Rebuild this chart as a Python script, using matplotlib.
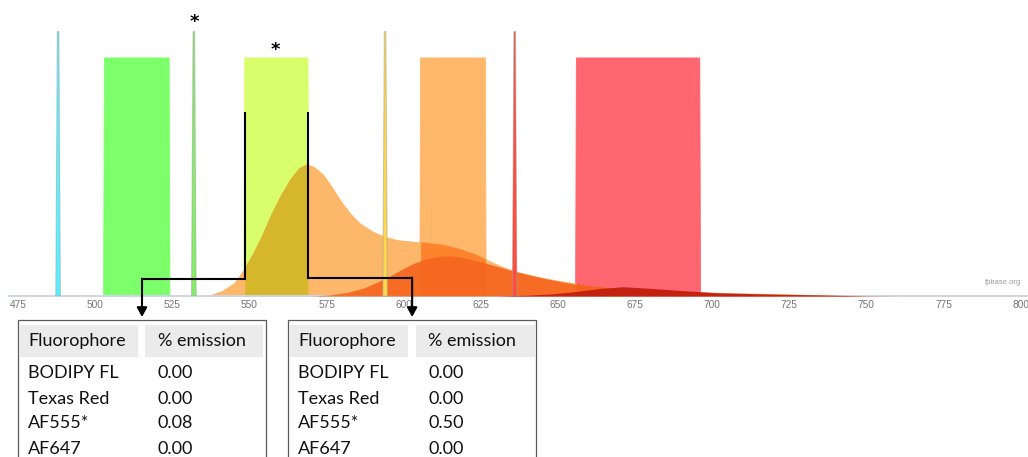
import numpy as np
import matplotlib
matplotlib.use("Agg")
import matplotlib.pyplot as plt
from matplotlib.patches import Rectangle, Polygon
from matplotlib.colors import to_rgb

# ---------------- data ----------------
tick_values = list(range(475, 801, 25))

laser_nm = [488, 532, 594, 636]
laser_colors = ["#5cf0ff", "#86ee66", "#ffd84a", "#ff4c3c"]

filter_lo = [503.0, 548.5, 605.5, 656.0]
filter_hi = [524.0, 569.0, 626.5, 696.0]
filter_colors = ["#7dff6b", "#d8ff6b", "#ffb86b", "#ff6670"]
filter_level = 0.90

af555_nm = [535, 538, 541, 545, 548, 551, 554, 557, 560, 563, 566, 568.5, 571, 574,
            577, 580, 583, 586, 590, 594, 598, 603, 608, 613, 618, 623, 627, 632, 637,
            642, 647, 653, 660, 668, 676, 685, 696, 707, 720, 735, 750]
af555_em = [0, 0.008, 0.02, 0.05, 0.10, 0.16, 0.23, 0.31, 0.38, 0.44, 0.485, 0.499,
            0.49, 0.46, 0.41, 0.355, 0.31, 0.275, 0.245, 0.225, 0.213, 0.207, 0.202,
            0.195, 0.18, 0.16, 0.138, 0.112, 0.092, 0.078, 0.066, 0.054, 0.04, 0.03,
            0.023, 0.019, 0.016, 0.012, 0.009, 0.005, 0]

texasred_nm = [570, 576, 582, 587, 591, 595, 599, 603, 607, 611, 615, 619, 623, 627,
               631, 635, 640, 645, 652, 660, 670, 680, 695, 710, 725, 745, 760]
texasred_em = [0, 0.004, 0.014, 0.03, 0.05, 0.072, 0.098, 0.122, 0.140, 0.150, 0.152,
               0.146, 0.135, 0.123, 0.110, 0.096, 0.082, 0.068, 0.052, 0.038, 0.027,
               0.019, 0.011, 0.007, 0.004, 0.002, 0]

af647_nm = [630, 640, 648, 655, 664, 671, 680, 691, 701.5, 718, 735, 750]
af647_em = [0, 0.003, 0.008, 0.016, 0.029, 0.035, 0.029, 0.02, 0.0125, 0.0076, 0.004, 0]

fluorophores = ["BODIPY FL", "Texas Red", "AF555*", "AF647"]
emission_left = [0.00, 0.00, 0.08, 0.00]
emission_right = [0.00, 0.00, 0.50, 0.00]
table_headers = ["Fluorophore", "% emission"]

# ---------------- figure ----------------
W, H = 1028, 457
fig = plt.figure(figsize=(W / 100, H / 100), dpi=100)
fig.patch.set_facecolor("white")

px_per_nm = 3.085
x0_px = 18.0            # pixel of 475 nm
base_px = 296.0         # baseline pixel (from top)
unit_px = 264.5         # pixels for height 1.0
ax_left_px = 9.0

ax = fig.add_axes([ax_left_px / W, (H - base_px) / H, 1 - ax_left_px / W, base_px / H])
ax.set_xlim(475 - (x0_px - ax_left_px) / px_per_nm, 475 + (W - x0_px) / px_per_nm)
ax.set_ylim(0, base_px / unit_px)
ax.set_facecolor("none")
for s in ["top", "right", "left"]:
    ax.spines[s].set_visible(False)
ax.spines["bottom"].set_color("#cdd6e2")
ax.spines["bottom"].set_linewidth(1.4)
ax.set_yticks([])
ax.set_xticks(tick_values)
ax.tick_params(axis="x", length=0, pad=3.2, labelsize=7.3, labelcolor="#757575")
for lab in ax.get_xticklabels():
    lab.set_family("Liberation Sans")


def mult(c1, c2):
    a, b = np.array(to_rgb(c1)), np.array(to_rgb(c2))
    return tuple(a * b)


# filters
for lo, hi, c in zip(filter_lo, filter_hi, filter_colors):
    poly = Polygon([(lo - 0.25, 0), (lo, filter_level), (hi, filter_level), (hi + 0.25, 0)],
                   closed=True, facecolor=c, edgecolor=c, lw=0.6, zorder=1)
    ax.add_patch(poly)

# AF555 emission
af_col = "#fdb76a"
ax.fill_between(af555_nm, 0, af555_em, color=af_col, lw=0, zorder=2)
x555 = np.array(af555_nm, dtype=float)
y555 = np.array(af555_em, dtype=float)
for lo, hi, c in zip(filter_lo, filter_hi, filter_colors):
    xs = np.concatenate([[lo], x555[(x555 > lo) & (x555 < hi)], [hi]])
    ys = np.interp(xs, x555, y555)
    ax.fill_between(xs, 0, ys, color=mult(c, af_col), lw=0, zorder=2.5)

# Texas Red emission
ax.fill_between(texasred_nm, 0, texasred_em, color="#f6661e", alpha=0.92, lw=0, zorder=3)
# AF647 emission
ax.fill_between(af647_nm, 0, af647_em, color="#c21f10", alpha=0.95, lw=0, zorder=4)

# lasers
for nm, c in zip(laser_nm, laser_colors):
    poly = Polygon([(nm - 0.75, 0), (nm - 0.25, 1.0), (nm + 0.25, 1.0), (nm + 0.75, 0)],
                   closed=True, facecolor=c, edgecolor=(0.62, 0.62, 0.62, 0.5), lw=0.8,
                   zorder=5)
    ax.add_patch(poly)

# asterisks
ax.annotate("*", (laser_nm[1], 1.0), xytext=(1, 9), textcoords="offset pixels",
            ha="center", va="center", fontsize=13, fontweight="bold", color="black",
            annotation_clip=False)
ax.annotate("*", ((filter_lo[1] + filter_hi[1]) / 2, filter_level), xytext=(-1, 7.5),
            textcoords="offset pixels", ha="center", va="center", fontsize=13,
            fontweight="bold", color="black", annotation_clip=False)

ax.text(0.9935, 0.045, "fpbase.org", transform=ax.transAxes, ha="right", va="center",
        fontsize=5.5, color="#9a9a9a", family="Liberation Sans")

# ---------------- overlay (pixel coordinates) ----------------
ov = fig.add_axes([0, 0, 1, 1])
ov.set_xlim(0, W)
ov.set_ylim(H, 0)
ov.axis("off")
ov.patch.set_visible(False)


def to_px(xd, yd):
    disp = ax.transData.transform((xd, yd))
    return ov.transData.inverted().transform(disp)


tables = [
    dict(left=18.3, right=265.7, c1=(20, 137.7), c2=(145, 263.3), tx1=28.3, tx2=157.5,
         vals=emission_left),
    dict(left=288.3, right=536.0, c1=(290, 408.3), c2=(416, 535), tx1=298.3, tx2=428.3,
         vals=emission_right),
]
tab_top = 320
font = ["Lato", "DejaVu Sans"]
fs = 13
for t in tables:
    ov.add_patch(Rectangle((t["left"], tab_top), t["right"] - t["left"], 200,
                           facecolor="white", edgecolor="#5a5a5a", lw=0.9, zorder=1))
    for (a, b) in (t["c1"], t["c2"]):
        ov.add_patch(Rectangle((a, 325), b - a, 31.7, facecolor="#ebebeb",
                               edgecolor="none", zorder=2))
    ov.text(t["tx1"], 341, table_headers[0], ha="left", va="center", fontsize=fs,
            family=font, color="#111111", zorder=3)
    ov.text(t["tx2"], 341, table_headers[1], ha="left", va="center", fontsize=fs,
            family=font, color="#111111", zorder=3)
    for i, (name, v) in enumerate(zip(fluorophores, t["vals"])):
        yy = 373.5 + 25 * i
        ov.text(t["tx1"], yy, name, ha="left", va="center", fontsize=fs,
                family=font, color="#111111", zorder=3)
        ov.text(t["tx2"], yy, f"{v:.2f}", ha="left", va="center", fontsize=fs,
                family=font, color="#111111", zorder=3)

# connectors from the second filter edges down to the tables
edge_top = 0.696
elbow = [0.063, 0.067]
edges = [filter_lo[1], filter_hi[1]]
for edge, t, el in zip(edges, tables, elbow):
    xa, ya = to_px(edge, edge_top)
    _, yb = to_px(edge, el)
    xc = (t["left"] + t["right"]) / 2
    ov.plot([xa, xa, xc], [ya, yb, yb], color="black", lw=1.5,
            solid_capstyle="butt", solid_joinstyle="miter", zorder=6)
    ov.annotate("", xy=(xc, 317), xytext=(xc, yb - 0.7),
                arrowprops=dict(arrowstyle="-|>,head_length=0.55,head_width=0.3",
                                color="black", lw=1.5, shrinkA=0, shrinkB=0),
                zorder=6)

fig.savefig("out.png", dpi=100, facecolor="white")
